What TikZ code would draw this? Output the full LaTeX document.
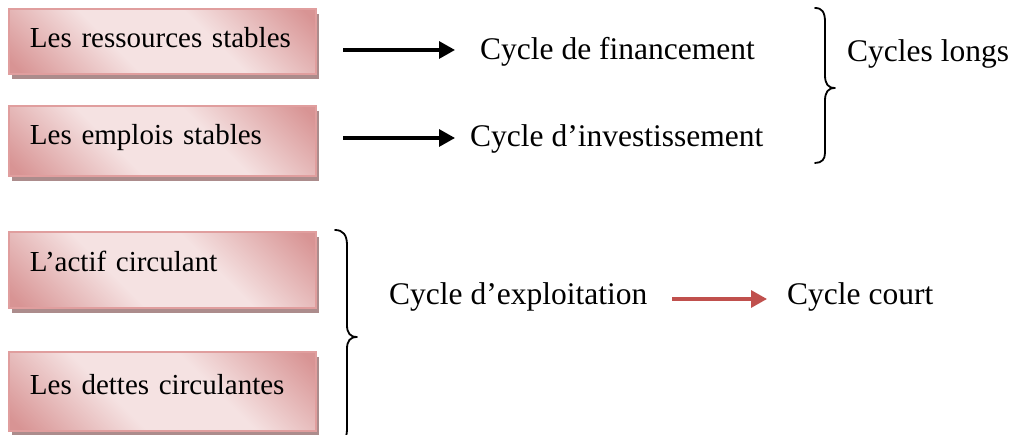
\documentclass[tikz,border=0pt]{standalone}
\usepackage{fontspec}
\setmainfont{Liberation Serif}
\usetikzlibrary{arrows.meta,shadows}
\definecolor{pdark}{RGB}{216,148,148}
\definecolor{plight}{RGB}{245,226,226}
\definecolor{pborder}{RGB}{224,158,158}
\definecolor{shadowc}{RGB}{172,140,140}
\definecolor{arrred}{RGB}{192,80,77}
\pgfdeclareverticalshading{pinkdiag}{100bp}{color(0bp)=(pdark); color(17bp)=(pdark); color(40bp)=(plight); color(60bp)=(plight); color(83bp)=(pdark); color(100bp)=(pdark)}
\tikzset{
  pinkbox/.style={rectangle, draw=pborder, line width=1.3pt,
    shading=pinkdiag, shading angle=-45,
    drop shadow={shadow xshift=3pt, shadow yshift=-5pt, fill=shadowc, opacity=1},
    minimum width=307pt, inner xsep=21pt, text width=265pt, align=left,
    font=\fontsize{29}{34}\selectfont, text height=20pt},
  cyctext/.style={inner sep=0pt, anchor=base west, font=\fontsize{31.5}{36}\selectfont},
  blackarr/.style={line width=3.2pt, -{Triangle[length=16pt,width=17pt]}},
  redarr/.style={line width=3.2pt, draw=arrred, -{Triangle[length=16pt,width=17pt]}, arrred},
  bracestyle/.style={line width=1.8pt, line cap=round, line join=round}
}
\begin{document}
\begin{tikzpicture}[x=1pt,y=1pt]
\useasboundingbox (0,0) rectangle (1010,435);
% boxes
\node[pinkbox, minimum height=65pt, text depth=7pt] (b1) at (162.5,393.5) {Les ressources stables};
\node[pinkbox, minimum height=70pt, text depth=12pt] (b2) at (162.5,294) {Les emplois stables};
\node[pinkbox, minimum height=76pt, text depth=16pt] (b3) at (162.5,165) {L’actif circulant};
\node[pinkbox, minimum height=79pt, text depth=13pt] (b4) at (162.5,43.5) {Les dettes circulantes};
% texts
\node[cyctext] (t1) at (480,375) {Cycle de financement};
\node[cyctext] (t2) at (470,288) {Cycle d’investissement};
\node[cyctext] (t3) at (847,373) {Cycles longs};
\node[cyctext] (t5) at (389,130) {Cycle d’exploitation};
\node[cyctext] (t6) at (787,130) {Cycle court};
% arrow start points
\coordinate (s1) at (343,385);
\coordinate (s2) at (343,297);
\draw[blackarr, shorten >=25pt] (s1) -- (s1 -| t1.west);
\draw[blackarr, shorten >=15pt] (s2) -- (s2 -| t2.west);
\coordinate (r1) at (t5.base east);
\coordinate (r2) at (t6.base west);
\draw[redarr, shorten <=25pt, shorten >=20pt] ([yshift=6pt]r1) -- ([yshift=6pt]r2);
% braces
\draw[bracestyle] (815,427) .. controls (822,427) and (825,423) .. (825,413)
  -- (825,360) .. controls (825,351) and (828,347) .. (835,347)
  .. controls (828,347) and (825,343) .. (825,334)
  -- (825,282) .. controls (825,276) and (822,272) .. (815,272);
\draw[bracestyle] (335,205) .. controls (343,205) and (347,200) .. (347,190)
  -- (347,110) .. controls (347,102) and (350,98) .. (357,98)
  .. controls (350,98) and (347,94) .. (347,86)
  -- (347,6) .. controls (347,-4) and (343,-9) .. (335,-9);
\end{tikzpicture}
\end{document}
